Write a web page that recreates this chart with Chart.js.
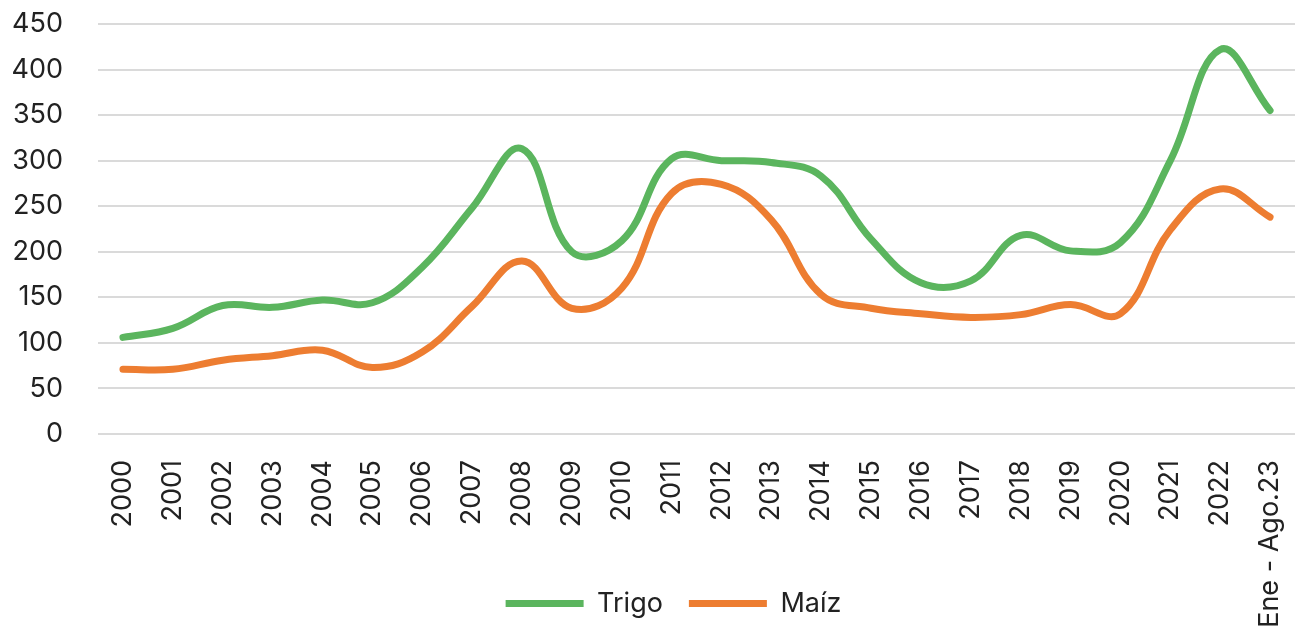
<!DOCTYPE html>
<html>
<head>
<meta charset="utf-8">
<title>Trigo y Maíz</title>
<script src="https://cdn.jsdelivr.net/npm/chart.js@4/dist/chart.umd.min.js"></script>
<style>
    html, body { margin: 0; padding: 0; background: #fff; }
    #wrap { width: 1299px; height: 627px; position: relative; }
</style>
</head>
<body>
<div id="wrap"><canvas id="chart"></canvas></div>
<script>
// Categorías del eje X
const categories = [
    '2000', '2001', '2002', '2003', '2004', '2005', '2006', '2007',
    '2008', '2009', '2010', '2011', '2012', '2013', '2014', '2015',
    '2016', '2017', '2018', '2019', '2020', '2021', '2022', 'Ene - Ago.23'
];

// Series
const trigo = [
    106, 116, 141, 139, 147, 144, 183, 248,
    313, 200, 212, 302, 300, 298, 283, 214,
    166, 168, 218, 201, 210, 300, 422, 355
];
const maiz = [
    71, 71, 81, 86, 92, 73, 90, 140,
    190, 138, 160, 264, 274, 235, 153, 138,
    132, 128, 131, 142, 132, 224, 269, 238
];

// Eje Y
const yMin = 0;
const yMax = 450;
const yStep = 50;

const GREEN = '#5BB55E';
const ORANGE = '#ED7D31';
const FONT = 'Inter, "DejaVu Sans", sans-serif';

// La etiqueta larga del último año baja junto a la leyenda:
// ampliar la zona de recorte del eje X y correr un poco la leyenda
const layoutTweaks = {
    id: 'layoutTweaks',
    afterLayout(chart) {
        chart.scales.x.bottom = chart.height;
        chart.legend.left += 23;
        chart.legend.right += 23;
    }
};

const ctx = document.getElementById('chart').getContext('2d');

new Chart(ctx, {
    type: 'line',
    data: {
        labels: categories,
        datasets: [{
            label: 'Trigo',
            data: trigo,
            borderColor: GREEN,
            backgroundColor: GREEN,
            borderWidth: 7,
            borderCapStyle: 'round',
            tension: 0.4,
            pointRadius: 0,
            fill: false
        }, {
            label: 'Maíz',
            data: maiz,
            borderColor: ORANGE,
            backgroundColor: ORANGE,
            borderWidth: 7,
            borderCapStyle: 'round',
            tension: 0.4,
            pointRadius: 0,
            fill: false
        }]
    },
    plugins: [layoutTweaks],
    options: {
        responsive: true,
        maintainAspectRatio: false,
        animation: false,
        layout: {
            padding: { left: 6, right: 4, top: 0, bottom: 0 }
        },
        plugins: {
            tooltip: { enabled: false },
            legend: {
                position: 'bottom',
                labels: {
                    usePointStyle: true,
                    pointStyle: 'line',
                    pointStyleWidth: 78,
                    padding: 26,
                    color: '#222',
                    font: { family: FONT, size: 27 }
                }
            }
        },
        scales: {
            x: {
                offset: true,
                grid: { display: false },
                border: { display: false },
                ticks: {
                    autoSkip: false,
                    maxRotation: 90,
                    minRotation: 90,
                    padding: 18,
                    color: '#222',
                    font: { family: FONT, size: 27 }
                },
                afterFit: (scale) => {
                    scale.height = 130;
                    scale.paddingLeft = 0;
                    scale.paddingRight = 0;
                }
            },
            y: {
                min: yMin,
                max: yMax,
                grid: { color: '#DADADA', lineWidth: 2, drawTicks: false },
                border: { display: false },
                ticks: {
                    stepSize: yStep,
                    padding: 35,
                    color: '#222',
                    font: { family: FONT, size: 27 }
                },
                afterFit: (scale) => {
                    scale.width = 92;
                    scale.paddingTop = 24;
                    scale.paddingBottom = 0;
                }
            }
        }
    }
});
</script>
</body>
</html>
